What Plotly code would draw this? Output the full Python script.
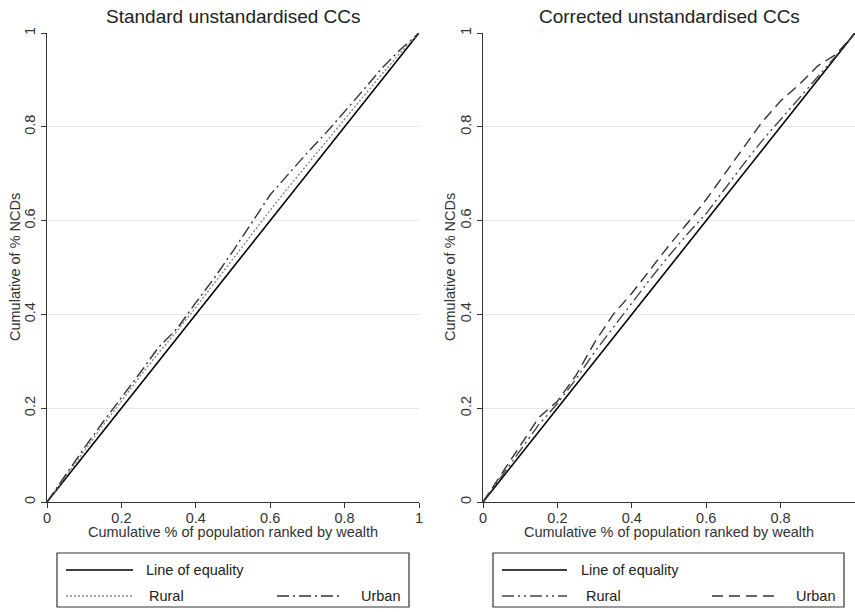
import plotly.graph_objects as go

W, H = 855, 612

x_vals = [0, 0.05, 0.1, 0.15, 0.2, 0.25, 0.3, 0.35, 0.4, 0.45, 0.5,
          0.55, 0.6, 0.65, 0.7, 0.75, 0.8, 0.85, 0.9, 0.95, 1]
equality = [0, 1]

std_rural = [0, 0.055, 0.11, 0.163, 0.215, 0.268, 0.318, 0.365, 0.415, 0.467, 0.52,
             0.572, 0.622, 0.672, 0.72, 0.77, 0.818, 0.865, 0.912, 0.958, 1]
std_urban = [0, 0.058, 0.115, 0.17, 0.222, 0.275, 0.33, 0.37, 0.425, 0.478, 0.535,
             0.596, 0.655, 0.70, 0.745, 0.787, 0.832, 0.878, 0.925, 0.965, 1]

cor_rural = [0, 0.055, 0.11, 0.165, 0.21, 0.262, 0.32, 0.372, 0.425, 0.476, 0.525,
             0.572, 0.615, 0.668, 0.72, 0.77, 0.815, 0.86, 0.905, 0.952, 1]
cor_urban = [0, 0.06, 0.122, 0.18, 0.215, 0.27, 0.34, 0.40, 0.445, 0.497, 0.547,
             0.595, 0.645, 0.70, 0.755, 0.81, 0.855, 0.89, 0.93, 0.955, 1]

tick_vals = [0, 0.2, 0.4, 0.6, 0.8, 1]
tick_text = ["0", "0.2", "0.4", "0.6", "0.8", "1"]

panel_titles = ["Standard unstandardised CCs", "Corrected unstandardised CCs"]
x_title = "Cumulative % of population ranked by wealth"
y_title = "Cumulative of % NCDs"
legend_labels = ["Line of equality", "Rural", "Urban"]

FONT = "Liberation Sans, Arial, sans-serif"
EQ_STYLE = dict(color="black", width=1.6)
STD_RURAL_STYLE = dict(color="#888888", width=1.4, dash="2px,2px")
STD_URBAN_STYLE = dict(color="#333333", width=1.4, dash="12px,4px,2px,4px")
COR_RURAL_STYLE = dict(color="#444444", width=1.4, dash="12px,4px,2px,4px,2px,4px")
COR_URBAN_STYLE = dict(color="#333333", width=1.4, dash="11px,6px")


def px(x):
    return x / W


def py(y):
    return 1 - y / H


fig = go.Figure()

panels = [
    ("x", "y", std_rural, std_urban, STD_RURAL_STYLE, STD_URBAN_STYLE),
    ("x2", "y2", cor_rural, cor_urban, COR_RURAL_STYLE, COR_URBAN_STYLE),
]
for xa, ya, rur, urb, rs, us in panels:
    fig.add_trace(go.Scatter(x=equality, y=equality, mode="lines", line=EQ_STYLE,
                             xaxis=xa, yaxis=ya, showlegend=False, name=legend_labels[0],
                             cliponaxis=False))
    fig.add_trace(go.Scatter(x=x_vals, y=rur, mode="lines", line=rs,
                             xaxis=xa, yaxis=ya, showlegend=False, name=legend_labels[1]))
    fig.add_trace(go.Scatter(x=x_vals, y=urb, mode="lines", line=us,
                             xaxis=xa, yaxis=ya, showlegend=False, name=legend_labels[2]))

ydom = [py(502), py(33)]
xdoms = [[px(47), px(419)], [px(483), 1.0]]

axis_common = dict(
    range=[0, 1], tickvals=tick_vals, ticktext=tick_text, ticks="outside",
    ticklen=5, tickwidth=1, tickcolor="#333333", showline=True, linecolor="#333333",
    linewidth=1.2, zeroline=False, tickfont=dict(family=FONT, size=14.5, color="#333333"),
    fixedrange=True, automargin=False,
)

layout = dict(
    width=W, height=H, margin=dict(l=0, r=0, t=0, b=0, autoexpand=False),
    paper_bgcolor="white", plot_bgcolor="white", showlegend=False,
    font=dict(family=FONT, color="#222222"),
)
for i, (xa, ya) in enumerate([("xaxis", "yaxis"), ("xaxis2", "yaxis2")]):
    layout[xa] = dict(axis_common, domain=xdoms[i], showgrid=False,
                      ticklabelstandoff=-3,
                      anchor="y" if i == 0 else "y2")
    layout[ya] = dict(axis_common, domain=ydom, showgrid=True, gridcolor="#e6e6e6",
                      gridwidth=1, tickangle=-90,
                      anchor="x" if i == 0 else "x2")
fig.update_layout(**layout)

annotations = []
shapes = []
ytitle_x = [15, 450]
for i, t in enumerate(panel_titles):
    cx = (xdoms[i][0] + xdoms[i][1]) / 2
    annotations.append(dict(text=t, x=cx, y=py(16), xref="paper", yref="paper",
                            showarrow=False, xanchor="center", yanchor="middle",
                            font=dict(family=FONT, size=19, color="#222222")))
    annotations.append(dict(text=x_title, x=cx, y=py(532), xref="paper", yref="paper",
                            showarrow=False, xanchor="center", yanchor="middle",
                            borderpad=0,
                            font=dict(family=FONT, size=14.5, color="#333333")))
    annotations.append(dict(text=y_title, x=px(ytitle_x[i]), y=py(267), xref="paper",
                            yref="paper", showarrow=False, xanchor="center",
                            yanchor="middle", textangle=-90,
                            font=dict(family=FONT, size=14.5, color="#333333")))

# legend boxes (drawn manually to reproduce the two-row layout)
legends = [
    dict(box=(57, 553, 409, 607), eq=(66, 133, 147), rural=(66, 133, 150),
         urban=(277, 343, 362), rs=STD_RURAL_STYLE, us=STD_URBAN_STYLE),
    dict(box=(493, 553, 844, 607), eq=(502, 567, 582), rural=(502, 567, 587),
         urban=(712, 778, 797), rs=COR_RURAL_STYLE, us=COR_URBAN_STYLE),
]
row1, row2 = 570, 596
for lg in legends:
    x0, y0, x1, y1 = lg["box"]
    shapes.append(dict(type="rect", xref="paper", yref="paper", x0=px(x0), x1=px(x1),
                       y0=py(y1), y1=py(y0), line=dict(color="#333333", width=1.2)))
    items = [(lg["eq"], row1, EQ_STYLE, legend_labels[0]),
             (lg["rural"], row2, lg["rs"], legend_labels[1]),
             (lg["urban"], row2, lg["us"], legend_labels[2])]
    for (sx0, sx1, tx), ry, st, lab in items:
        shapes.append(dict(type="line", xref="paper", yref="paper", x0=px(sx0), x1=px(sx1),
                           y0=py(ry), y1=py(ry), line=st))
        annotations.append(dict(text=lab, x=px(tx - 2), y=py(ry), xref="paper", yref="paper",
                                showarrow=False, xanchor="left", yanchor="middle",
                                borderpad=0,
                                font=dict(family=FONT, size=14.5, color="#222222")))

fig.update_layout(annotations=annotations, shapes=shapes)
fig.write_html("out.html", config={"displayModeBar": False},
               post_script="document.body.style.margin='0';document.body.style.padding='0';")
